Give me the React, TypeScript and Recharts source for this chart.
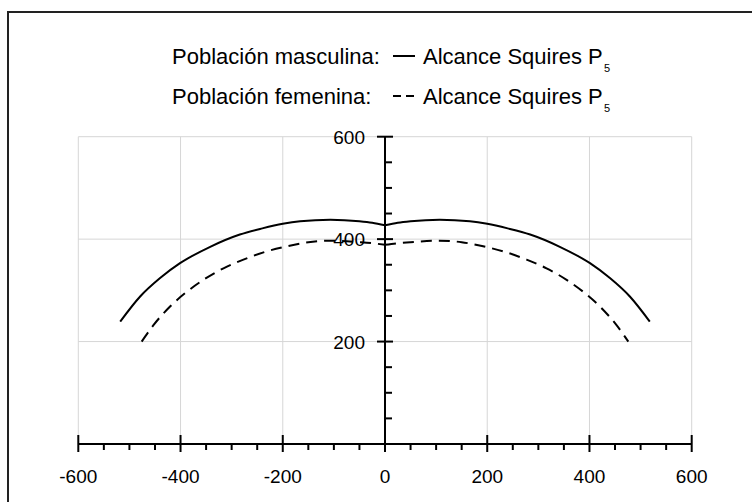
import React from "react"
import { LineChart, Line, XAxis, YAxis, ReferenceLine } from "recharts"

// Alcance Squires P5 (masculina / femenina)
const maleX = [-518, -479, -440, -401, -342, -284, -240, -200, -166, -107, -50, -25, 0, 25, 50, 107, 166, 200, 240, 284, 342, 401, 440, 479, 518]
const maleY = [239, 288, 324, 353, 385, 409, 421, 430, 435, 438, 435, 432, 427, 432, 435, 438, 435, 430, 421, 409, 385, 353, 324, 288, 239]
const femaleX = [-476, -453, -421, -388, -356, -316, -277, -235, -192, -150, -105, -50, -25, 0, 25, 50, 105, 150, 192, 235, 277, 316, 356, 388, 421, 453, 476]
const femaleY = [200, 232, 268, 297, 320, 343, 360, 375, 386, 394, 397, 394, 392, 389, 392, 394, 397, 394, 386, 375, 360, 343, 320, 297, 268, 232, 200]

const xTicks = [-600, -550, -500, -450, -400, -350, -300, -250, -200, -150, -100, -50, 0, 50, 100, 150, 200, 250, 300, 350, 400, 450, 500, 550, 600]
const yTicks = [50, 100, 150, 200, 250, 300, 350, 400, 450, 500, 550, 600]
const xGrid = [-600, -400, -200, 200, 400, 600]
const yGrid = [200, 400, 600]

const legendRows = [
  { label: "Población masculina:", series: "Alcance Squires P", sub: "5", dash: undefined },
  { label: "Población femenina:", series: "Alcance Squires P", sub: "5", dash: "8 5" },
]

const FONT = "'Liberation Sans', Arial, Helvetica, sans-serif"
const W = 752
const H = 502
const PLOT_LEFT = 78.3
const PLOT_RIGHT = 691.7
const PLOT_TOP = 136.7
const PLOT_BOTTOM = 444
const CENTER_X = (PLOT_LEFT + PLOT_RIGHT) / 2
const Y_AXIS_W = 40
const X_AXIS_H = 30

const toPoints = (xs: number[], ys: number[]) => xs.map((x, i) => ({ x, y: ys[i] }))
const male = toPoints(maleX, maleY)
const female = toPoints(femaleX, femaleY)
// split at x = 0 so the little notch in the middle stays sharp
const leftHalf = (d: { x: number; y: number }[]) => d.filter((p) => p.x <= 0)
const rightHalf = (d: { x: number; y: number }[]) => d.filter((p) => p.x >= 0)

function XTick(props: any) {
  const { x, payload } = props
  const v = payload.value
  const major = v % 200 === 0
  return (
    <g>
      {major ? (
        <line x1={x} x2={x} y1={PLOT_BOTTOM - 9} y2={PLOT_BOTTOM + 8} stroke="#000" strokeWidth={2} />
      ) : (
        <line x1={x} x2={x} y1={PLOT_BOTTOM} y2={PLOT_BOTTOM + 6} stroke="#000" strokeWidth={2} />
      )}
      {major && (
        <text x={x} y={482.5} textAnchor="middle" fontFamily={FONT} fontSize={19} fill="#000">
          {v}
        </text>
      )}
    </g>
  )
}

function YTick(props: any) {
  const { y, payload } = props
  const v = payload.value
  const major = v % 200 === 0
  return (
    <g>
      {major ? (
        <line x1={CENTER_X - 8} x2={CENTER_X + 8} y1={y} y2={y} stroke="#000" strokeWidth={2} />
      ) : (
        <line x1={CENTER_X} x2={CENTER_X + 7} y1={y} y2={y} stroke="#000" strokeWidth={2} />
      )}
      {major && (
        <text x={CENTER_X - 20} y={y + 7} textAnchor="end" fontFamily={FONT} fontSize={19} fill="#000">
          {v}
        </text>
      )}
    </g>
  )
}

function LegendBlock() {
  return (
    <svg width={W} height={130} style={{ position: "absolute", left: 0, top: 0 }}>
      {legendRows.map((row, i) => {
        const base = 63.5 + i * 40
        return (
          <g key={i} fontFamily={FONT} fill="#000">
            <text x={172} y={base} fontSize={22}>
              {row.label}
            </text>
            <line
              x1={393}
              x2={415}
              y1={base - 7.5}
              y2={base - 7.5}
              stroke="#000"
              strokeWidth={2}
              strokeDasharray={row.dash}
            />
            <text x={423} y={base} fontSize={22}>
              {row.series}
            </text>
            <text x={604} y={base + 8} fontSize={11}>
              {row.sub}
            </text>
          </g>
        )
      })}
    </svg>
  )
}

export default function App() {
  return (
    <div style={{ position: "absolute", left: 0, top: 0, width: W, height: H, overflow: "hidden", background: "#fff" }}>
      <div
        style={{
          position: "absolute",
          left: 7,
          top: 11,
          width: 800,
          height: 600,
          border: "2px solid #222",
          boxSizing: "border-box",
        }}
      />
      <div style={{ position: "absolute", left: 0, top: 0 }}>
        <LineChart
          width={W}
          height={H}
          margin={{
            top: PLOT_TOP,
            right: W - PLOT_RIGHT,
            bottom: H - PLOT_BOTTOM - X_AXIS_H,
            left: PLOT_LEFT - Y_AXIS_W,
          }}
        >
          <XAxis
            type="number"
            dataKey="x"
            domain={[-600, 600]}
            ticks={xTicks}
            interval={0}
            height={X_AXIS_H}
            axisLine={{ stroke: "#000", strokeWidth: 2 }}
            tickLine={false}
            tick={<XTick />}
            allowDataOverflow
          />
          <YAxis
            type="number"
            dataKey="y"
            domain={[0, 600]}
            ticks={yTicks}
            interval={0}
            width={Y_AXIS_W}
            axisLine={false}
            tickLine={false}
            tick={<YTick />}
            allowDataOverflow
          />
          {xGrid.map((v) => (
            <ReferenceLine key={`gx${v}`} x={v} stroke="#d6d6d6" strokeWidth={1} />
          ))}
          {yGrid.map((v) => (
            <ReferenceLine key={`gy${v}`} y={v} stroke="#d6d6d6" strokeWidth={1} />
          ))}
          <ReferenceLine x={0} stroke="#000" strokeWidth={2} />
          <Line data={leftHalf(male)} dataKey="y" type="monotone" stroke="#000" strokeWidth={2} dot={false} isAnimationActive={false} />
          <Line data={rightHalf(male)} dataKey="y" type="monotone" stroke="#000" strokeWidth={2} dot={false} isAnimationActive={false} />
          <Line data={leftHalf(female)} dataKey="y" type="monotone" stroke="#000" strokeWidth={2} strokeDasharray="11 7" dot={false} isAnimationActive={false} />
          <Line data={rightHalf(female)} dataKey="y" type="monotone" stroke="#000" strokeWidth={2} strokeDasharray="11 7" dot={false} isAnimationActive={false} />
        </LineChart>
      </div>
      <LegendBlock />
    </div>
  )
}
